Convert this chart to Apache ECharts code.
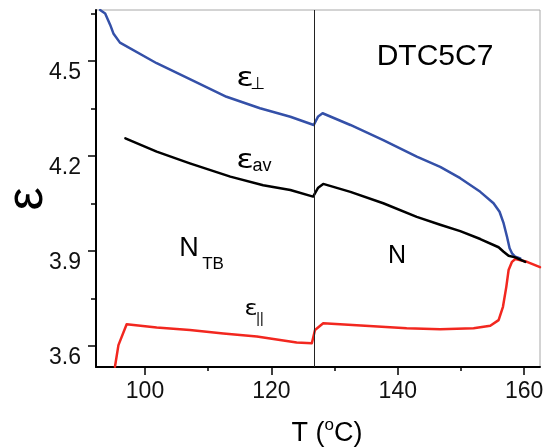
<!DOCTYPE html>
<html><head><meta charset="utf-8">
<script src="https://cdn.jsdelivr.net/npm/echarts@6/dist/echarts.min.js"></script>
<style>html,body{margin:0;padding:0;background:#fff}#c{width:544px;height:447px}</style>
</head><body><div id="c"></div>
<script>
// ---- data ----
const perpT = [92.9, 93.7, 94.5, 95.0, 96.04, 101.85, 107.1, 112.9, 118.2, 123.0, 126.7, 127.4, 128.1, 132.5, 137.7, 143.0, 146.71, 149.88, 153.05, 155.15, 156.10, 156.74, 157.28, 157.69, 158.07, 158.59, 159.38];
const perpE = [4.661, 4.65, 4.614, 4.587, 4.558, 4.493, 4.443, 4.387, 4.351, 4.324, 4.298, 4.325, 4.335, 4.298, 4.25, 4.198, 4.166, 4.130, 4.087, 4.051, 4.024, 3.988, 3.945, 3.909, 3.893, 3.882, 3.877];

const avT = [96.9, 101.85, 107.1, 113.5, 118.7, 123.0, 126.6, 127.4, 128.2, 132.5, 137.7, 143.0, 146.71, 149.88, 153.05, 155.95, 156.74, 157.53, 158.59, 160.17];
const avE = [4.256, 4.214, 4.177, 4.135, 4.108, 4.093, 4.072, 4.100, 4.112, 4.087, 4.051, 4.008, 3.983, 3.963, 3.938, 3.912, 3.898, 3.885, 3.880, 3.866];

const parT = [95.25, 95.8, 97.1, 101.85, 107.1, 112.4, 117.7, 124.0, 126.4, 126.9, 128.2, 133.5, 141.4, 146.71, 151.99, 154.63, 155.95, 156.64, 157.17, 157.53, 158.07, 158.59, 160.44, 162.5];
const parE = [3.535, 3.603, 3.669, 3.659, 3.651, 3.640, 3.630, 3.611, 3.609, 3.651, 3.672, 3.666, 3.656, 3.653, 3.656, 3.664, 3.682, 3.724, 3.787, 3.840, 3.866, 3.875, 3.866, 3.849];

const transitionT = 126.8;
const xMajor = [100, 120, 140, 160];
const xMinor = [110, 130, 150];
const yMajor = [3.6, 3.9, 4.2, 4.5];
const yMinor = [3.75, 4.05, 4.35, 4.65];
const xRange = [92.25, 162.5];
const yRange = [3.534, 4.661];

// ---- chart ----
const zip = (a, b) => a.map((v, i) => [v, b[i]]);
const FONT = '"Liberation Sans", Arial, sans-serif';
const GREEK = '"DejaVu Sans", sans-serif';
const chart = echarts.init(document.getElementById('c'), null, {renderer: 'canvas'});

const baseX = {
  type: 'value', min: xRange[0], max: xRange[1], gridIndex: 0, position: 'bottom',
  splitLine: {show: false}
};
const baseY = {
  type: 'value', min: yRange[0], max: yRange[1], gridIndex: 0, position: 'left',
  splitLine: {show: false}
};
const lineSeries = (name, t, e, color, z) => ({
  type: 'line', name, data: zip(t, e), showSymbol: false, smooth: false, clip: true,
  lineStyle: {color, width: 2.5, cap: 'round', join: 'round'}, z
});
const txt = (text, x, y, size, family, extra) => Object.assign({
  type: 'text', x, y,
  style: {text, font: size + 'px ' + family, fill: '#000', align: 'center', verticalAlign: 'middle'}
}, extra || {});

chart.setOption({
  animation: false,
  backgroundColor: '#fff',
  grid: {left: 96, right: 4, top: 10, bottom: 80, show: true, borderColor: '#a8a8a8', borderWidth: 1, outerBoundsMode: 'none'},
  xAxis: [
    Object.assign({}, baseX, {
      axisLine: {show: true, onZero: false, lineStyle: {color: '#000', width: 2}},
      axisTick: {show: true, customValues: xMajor, length: 8, lineStyle: {color: '#000', width: 1.5}},
      axisLabel: {show: true, customValues: xMajor, margin: 13, fontSize: 23, color: '#111', fontFamily: FONT,
        formatter: v => String(Math.round(v))}
    }),
    Object.assign({}, baseX, {
      axisLine: {show: false, onZero: false},
      axisTick: {show: true, customValues: xMinor, length: 4, lineStyle: {color: '#000', width: 1.5}},
      axisLabel: {show: false}
    })
  ],
  yAxis: [
    Object.assign({}, baseY, {
      axisLine: {show: true, onZero: false, lineStyle: {color: '#000', width: 2}},
      axisTick: {show: true, customValues: yMajor, length: 8, lineStyle: {color: '#000', width: 1.5}},
      axisLabel: {show: true, customValues: yMajor, margin: 15, fontSize: 23, color: '#111', fontFamily: FONT,
        verticalAlign: 'top', formatter: v => v.toFixed(1)}
    }),
    Object.assign({}, baseY, {
      axisLine: {show: false, onZero: false},
      axisTick: {show: true, customValues: yMinor, length: 5, lineStyle: {color: '#000', width: 1.5}},
      axisLabel: {show: false}
    })
  ],
  series: [
    lineSeries('perp', perpT, perpE, '#3450a8', 2),
    lineSeries('par', parT, parE, '#f2271f', 3),
    Object.assign(lineSeries('av', avT, avE, '#000', 4), {
      markLine: {silent: true, symbol: ['none', 'none'], label: {show: false},
        lineStyle: {color: '#222', width: 1, type: 'solid'}, data: [{xAxis: transitionT}]}
    })
  ],
  graphic: [
    txt('ε', 28, 199, 52, FONT, {rotation: Math.PI / 2}),
    {type: 'text', x: 327, y: 432,
      style: {text: '{a|T (}{b|o}{a|C)}', align: 'center', verticalAlign: 'middle',
        rich: {a: {fontSize: 27, fontFamily: FONT, fill: '#000', verticalAlign: 'bottom', lineHeight: 31},
               b: {fontSize: 17, fontFamily: FONT, fill: '#000', verticalAlign: 'top', lineHeight: 17}}}},
    txt('DTC5C7', 435, 57, 30, FONT),
    txt('ε', 245, 79, 27, GREEK, {scaleX: 1.2}),
    txt('⊥', 258, 85, 17, GREEK),
    txt('ε', 245, 161, 27, GREEK, {scaleX: 1.2}),
    txt('av', 262, 166, 18, FONT),
    txt('ε', 251, 310, 21, GREEK, {scaleX: 1.15}),
    txt('||', 260, 319, 14, FONT),
    txt('N', 189, 249, 27, FONT),
    txt('TB', 213, 264, 17, FONT),
    txt('N', 397, 256, 25, FONT)
  ]
});
</script>
</body></html>
